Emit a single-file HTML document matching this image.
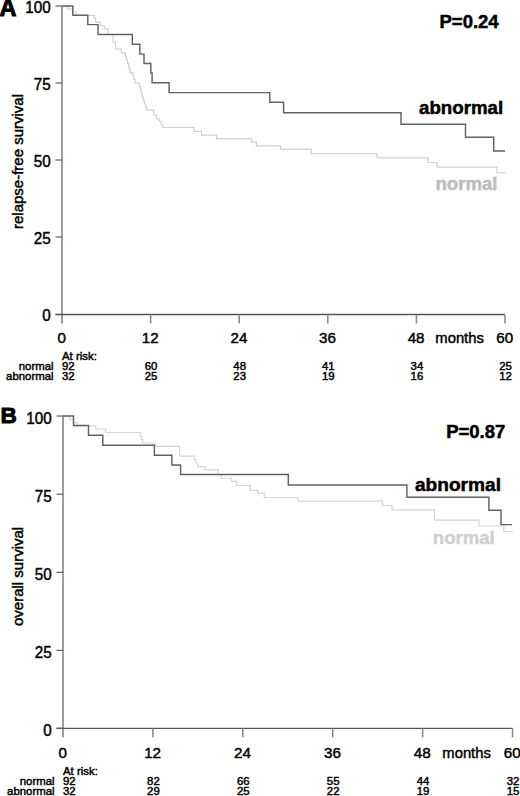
<!DOCTYPE html>
<html><head><meta charset="utf-8"><style>
html,body{margin:0;padding:0;background:#fff;}
svg{display:block;}
text{font-family:"Liberation Sans", sans-serif;fill:#000;stroke:#000;stroke-width:0.45px;}
.b{stroke-width:0.5px;}
.lg{fill:#cecece;stroke:#cecece;}
</style></head><body>
<svg width="520" height="796" viewBox="0 0 520 796">
<rect width="520" height="796" fill="#fff"/>
<path d="M62,6V323.5" fill="none" stroke="#858585" stroke-width="1.6"/>
<path d="M55.5,314.5H505" fill="none" stroke="#555" stroke-width="1.3"/>
<path d="M55.5,6H62" stroke="#5e5e5e" stroke-width="1.2"/>
<path d="M55.5,83H62" stroke="#5e5e5e" stroke-width="1.2"/>
<path d="M55.5,160H62" stroke="#5e5e5e" stroke-width="1.2"/>
<path d="M55.5,237H62" stroke="#5e5e5e" stroke-width="1.2"/>
<path d="M55.5,314.5H62" stroke="#5e5e5e" stroke-width="1.2"/>
<path d="M150.6,314.5V323.5" stroke="#858585" stroke-width="1.5"/>
<path d="M239.2,314.5V323.5" stroke="#858585" stroke-width="1.5"/>
<path d="M327.8,314.5V323.5" stroke="#858585" stroke-width="1.5"/>
<path d="M416.4,314.5V323.5" stroke="#858585" stroke-width="1.5"/>
<path d="M505,314.5V323.5" stroke="#858585" stroke-width="1.5"/>
<path d="M62,6H67.5V9H72.7V12H76V15.3H94.5V18.7H95.7V22.3H100V25.5H104.2V29H108V34.5H112.9V38.5H113.2V42H115.3V45.5H115.6V49H121.3V52.8H125.5V56.5H126.5V60H127.5V63.5H128.5V67H129.5V70H130.3V72.8H133.1V76H134V79.5H135.1V83H139.3V86.5H140.3V90H141.3V93.5H142.3V97H143.3V100.5H144.3V104H145.5V107H146.7V110.2H153.8V115H156.3V118.8H159.2V121H161V124H162.7V127.5H193.8V131.3H201.5V135.2H216.5V138.6H251.6V142.1H256.3V145.9H280.5V149.3H311.3V153.6H377V157.8H428V162.5H437V167.2H497V172.9H505" fill="none" stroke="#cfcfcf" stroke-width="1.2"/>
<path d="M62,6H72.8V15.3H87.8V24.6H98V34.5H132.3V44.2H139.8V54.1H144V63.4H150.8V72.9H152.1V82.7H169.1V92.6H269.8V102.3H283.6V112.7H401V124.2H465.5V137.3H493.7V151H505" fill="none" stroke="#626262" stroke-width="1.45"/>
<text transform="translate(50.6,12.9) scale(0.95,1)" text-anchor="end" font-size="16">100</text>
<text transform="translate(50.6,89.9) scale(0.95,1)" text-anchor="end" font-size="16">75</text>
<text transform="translate(50.6,166.9) scale(0.95,1)" text-anchor="end" font-size="16">50</text>
<text transform="translate(50.6,243.9) scale(0.95,1)" text-anchor="end" font-size="16">25</text>
<text transform="translate(50.6,321.4) scale(0.95,1)" text-anchor="end" font-size="16">0</text>
<text x="61.7" y="343.3" text-anchor="middle" font-size="15.2">0</text>
<text x="150.29999999999998" y="343.3" text-anchor="middle" font-size="15.2">12</text>
<text x="238.89999999999998" y="343.3" text-anchor="middle" font-size="15.2">24</text>
<text x="327.5" y="343.3" text-anchor="middle" font-size="15.2">36</text>
<text x="416.09999999999997" y="343.3" text-anchor="middle" font-size="15.2">48</text>
<text x="504.7" y="343.3" text-anchor="middle" font-size="15.2">60</text>
<text x="459.6" y="343.3" text-anchor="middle" font-size="14.8">months</text>
<text transform="translate(23.2,161.5) rotate(-90)" text-anchor="middle" font-size="15">relapse-free survival</text>
<text x="-0.4" y="15.9" font-size="23.5" font-weight="bold" style="stroke-width:0.9px">A</text>
<text x="439.5" y="27.9" font-size="18.5" font-weight="bold" class="b">P=0.24</text>
<text x="419" y="113.8" font-size="18.7" font-weight="bold" class="b">abnormal</text>
<text x="435.5" y="190.4" font-size="18.6" font-weight="bold" class="b" style="fill:#bdbdbd;stroke:#bdbdbd">normal</text>
<text x="62" y="359.5" font-size="11.4">At risk:</text>
<text x="53.6" y="370.0" text-anchor="end" font-size="11.4">normal</text>
<text x="53.6" y="380.0" text-anchor="end" font-size="11.4">abnormal</text>
<text x="62" y="370.0" font-size="11.4">92</text>
<text x="62" y="380.0" font-size="11.4">32</text>
<text x="151.1" y="370.0" text-anchor="middle" font-size="11.4">60</text>
<text x="151.1" y="380.0" text-anchor="middle" font-size="11.4">25</text>
<text x="239.7" y="370.0" text-anchor="middle" font-size="11.4">48</text>
<text x="239.7" y="380.0" text-anchor="middle" font-size="11.4">23</text>
<text x="328.3" y="370.0" text-anchor="middle" font-size="11.4">41</text>
<text x="328.3" y="380.0" text-anchor="middle" font-size="11.4">19</text>
<text x="416.9" y="370.0" text-anchor="middle" font-size="11.4">34</text>
<text x="416.9" y="380.0" text-anchor="middle" font-size="11.4">16</text>
<text x="505.5" y="370.0" text-anchor="middle" font-size="11.4">25</text>
<text x="505.5" y="380.0" text-anchor="middle" font-size="11.4">12</text>
<path d="M63,416V737.3" fill="none" stroke="#858585" stroke-width="1.6"/>
<path d="M56.5,728.3H512.5" fill="none" stroke="#555" stroke-width="1.3"/>
<path d="M56.5,416H63" stroke="#5e5e5e" stroke-width="1.2"/>
<path d="M56.5,494.2H63" stroke="#5e5e5e" stroke-width="1.2"/>
<path d="M56.5,572.4H63" stroke="#5e5e5e" stroke-width="1.2"/>
<path d="M56.5,650.4H63" stroke="#5e5e5e" stroke-width="1.2"/>
<path d="M56.5,728.3H63" stroke="#5e5e5e" stroke-width="1.2"/>
<path d="M152.9,728.3V737.3" stroke="#858585" stroke-width="1.5"/>
<path d="M242.8,728.3V737.3" stroke="#858585" stroke-width="1.5"/>
<path d="M332.7,728.3V737.3" stroke="#858585" stroke-width="1.5"/>
<path d="M422.6,728.3V737.3" stroke="#858585" stroke-width="1.5"/>
<path d="M512.5,728.3V737.3" stroke="#858585" stroke-width="1.5"/>
<path d="M63,416H69.5V419.4H73.5V422.6H77V425.8H95.8V429H105.6V432.5H140.4V436H141.5V439.5H142.5V443H155V446.3H179.7V456.2H194.2V459.5H196V463H198V466.6H204.8V469.8H218.3V474.5H221.2V478.3H231.7V481.3H236.5V485.5H250V490.3H257.7V493.3H264.2V497.5H297.7V501.2H382.5V505.5H392V509.8H434.4V520.2H479V526H503.8V531.5H513" fill="none" stroke="#d6d6d6" stroke-width="1.2"/>
<path d="M63,416H73.5V425.5H88.5V435.3H102.8V445.2H154.4V455.3H171.8V465H180.6V474.5H288.3V485H406.9V497.2H488.9V510.3H501V524.6H512" fill="none" stroke="#626262" stroke-width="1.45"/>
<text transform="translate(51.6,423.7) scale(0.95,1)" text-anchor="end" font-size="16">100</text>
<text transform="translate(51.6,501.9) scale(0.95,1)" text-anchor="end" font-size="16">75</text>
<text transform="translate(51.6,580.0999999999999) scale(0.95,1)" text-anchor="end" font-size="16">50</text>
<text transform="translate(51.6,658.0999999999999) scale(0.95,1)" text-anchor="end" font-size="16">25</text>
<text transform="translate(51.6,735.9999999999999) scale(0.95,1)" text-anchor="end" font-size="16">0</text>
<text x="62.7" y="757.5" text-anchor="middle" font-size="15.2">0</text>
<text x="152.6" y="757.5" text-anchor="middle" font-size="15.2">12</text>
<text x="242.5" y="757.5" text-anchor="middle" font-size="15.2">24</text>
<text x="332.4" y="757.5" text-anchor="middle" font-size="15.2">36</text>
<text x="422.3" y="757.5" text-anchor="middle" font-size="15.2">48</text>
<text x="512.2" y="757.5" text-anchor="middle" font-size="15.2">60</text>
<text x="466.6" y="757.5" text-anchor="middle" font-size="14.8">months</text>
<text transform="translate(23.2,576.4) rotate(-90)" text-anchor="middle" font-size="15">overall survival</text>
<text x="0.6" y="423.4" font-size="22.6" font-weight="bold" style="stroke-width:0.9px">B</text>
<text x="446.2" y="437.9" font-size="18.5" font-weight="bold" class="b">P=0.87</text>
<text x="415.0" y="491" font-size="19.1" font-weight="bold" class="b">abnormal</text>
<text x="432.8" y="544" font-size="18.6" font-weight="bold" class="b" style="fill:#d0d0d0;stroke:#d0d0d0">normal</text>
<text x="63" y="774.8" font-size="11.4">At risk:</text>
<text x="54.6" y="785.3" text-anchor="end" font-size="11.4">normal</text>
<text x="54.6" y="795.3" text-anchor="end" font-size="11.4">abnormal</text>
<text x="63" y="785.3" font-size="11.4">92</text>
<text x="63" y="795.3" font-size="11.4">32</text>
<text x="153.4" y="785.3" text-anchor="middle" font-size="11.4">82</text>
<text x="153.4" y="795.3" text-anchor="middle" font-size="11.4">29</text>
<text x="243.3" y="785.3" text-anchor="middle" font-size="11.4">66</text>
<text x="243.3" y="795.3" text-anchor="middle" font-size="11.4">25</text>
<text x="333.2" y="785.3" text-anchor="middle" font-size="11.4">55</text>
<text x="333.2" y="795.3" text-anchor="middle" font-size="11.4">22</text>
<text x="423.1" y="785.3" text-anchor="middle" font-size="11.4">44</text>
<text x="423.1" y="795.3" text-anchor="middle" font-size="11.4">19</text>
<text x="513.0" y="785.3" text-anchor="middle" font-size="11.4">32</text>
<text x="513.0" y="795.3" text-anchor="middle" font-size="11.4">15</text>
</svg>
</body></html>
